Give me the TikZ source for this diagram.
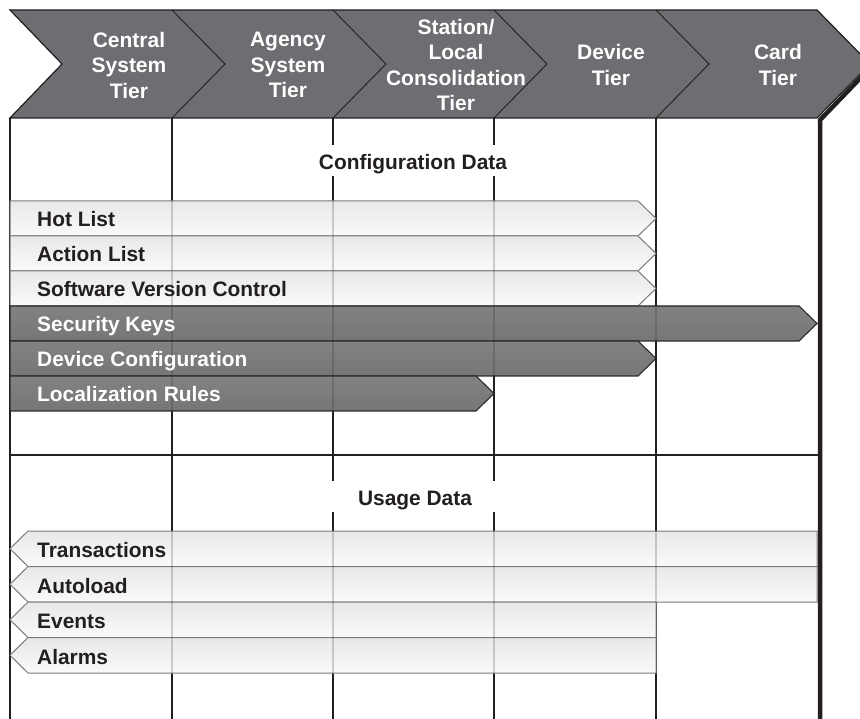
\documentclass[tikz,border=0pt]{standalone}
\usepackage{fontspec}
\setmainfont{Liberation Sans}
\definecolor{hdrgray}{HTML}{6D6E71}
\definecolor{linedark}{HTML}{231F20}
\definecolor{lightedge}{HTML}{7A7A7A}
\definecolor{darkedge}{HTML}{2A2A2A}
\definecolor{darktop}{HTML}{828282}
\definecolor{darkbot}{HTML}{767676}
\definecolor{txtblack}{HTML}{231F20}
\tikzset{
  hdr/.style={fill=hdrgray, draw=linedark, line width=1.2pt, line join=miter},
  sepline/.style={draw=linedark, line width=0.9pt},
  col/.style={draw=linedark, line width=1.4pt},
  lightbar/.style={draw=lightedge, line width=1pt, top color=black!9, bottom color=black!2},
  darkbar/.style={draw=darkedge, line width=1.1pt, top color=darktop, bottom color=darkbot},
  hdrtext/.style={text=white, font=\bfseries\fontsize{21}{25.5}\selectfont, align=center, inner sep=0pt},
  lbl/.style={font=\bfseries\fontsize{20.9}{24}\selectfont, anchor=base west, inner sep=0pt, text=txtblack},
  lblw/.style={lbl, text=white},
  sect/.style={font=\bfseries\fontsize{20.9}{24}\selectfont, anchor=base, inner sep=0pt, text=txtblack},
}
\begin{document}
\begin{tikzpicture}[x=1pt,y=-1pt]
\useasboundingbox (0,0) rectangle (860,719);
\clip (0,0) rectangle (860,719);
\fill[white] (0,0) rectangle (860,719);

% column lines
\draw[col] (10,118) -- (10,719);
\draw[col] (172,118) -- (172,719);
\draw[col] (333,118) -- (333,145);
\draw[col] (333,176) -- (333,481);
\draw[col] (333,512) -- (333,719);
\draw[col] (494,118) -- (494,145);
\draw[col] (494,176) -- (494,481);
\draw[col] (494,512) -- (494,719);
\draw[col] (656,118) -- (656,719);
% section separator
\draw[col] (10,455) -- (819,455);

% section labels
\node[sect] (cfg) at (413,170) {Configuration Data};
\node[sect] (usg) at (415,505) {Usage Data};

% configuration bars
\draw[lightbar] (10,201) -- (638,201) -- (656,218.5) -- (638,236) -- (10,236) -- cycle;
\draw[lightbar] (10,236) -- (638,236) -- (656,253.5) -- (638,271) -- (10,271) -- cycle;
\draw[lightbar] (10,271) -- (638,271) -- (656,288.5) -- (638,306) -- (10,306) -- cycle;
\draw[darkbar] (10,306) -- (799,306) -- (817,323.5) -- (799,341) -- (10,341) -- cycle;
\draw[darkbar] (10,341) -- (638,341) -- (656,358.5) -- (638,376) -- (10,376) -- cycle;
\draw[darkbar] (10,376) -- (476,376) -- (494,393.5) -- (476,411) -- (10,411) -- cycle;

% usage bars
\draw[lightbar] (28,531) -- (817,531) -- (817,566.5) -- (28,566.5) -- (10,548.75) -- cycle;
\draw[lightbar] (28,566.5) -- (817,566.5) -- (817,602) -- (28,602) -- (10,584.25) -- cycle;
\draw[lightbar] (28,602) -- (656,602) -- (656,637.5) -- (28,637.5) -- (10,619.75) -- cycle;
\draw[lightbar] (28,637.5) -- (656,637.5) -- (656,673) -- (28,673) -- (10,655.25) -- cycle;

% faint column lines showing through bars
\begin{scope}[draw opacity=0.2]
\draw[col] (172,201) -- (172,411);
\draw[col] (333,201) -- (333,411);
\draw[col] (494,201) -- (494,376);
\draw[col] (656,306) -- (656,341);
\draw[col] (172,531) -- (172,673);
\draw[col] (333,531) -- (333,673);
\draw[col] (494,531) -- (494,673);
\draw[col] (656,531) -- (656,602);
\end{scope}

% bar labels
\node[lbl]  (hot) at (37,226.5) {Hot List};
\node[lbl]  (act) at (37,261.5) {Action List};
\node[lbl]  (svc) at (37,296.5) {Software Version Control};
\node[lblw] (sec) at (37,331.5) {Security Keys};
\node[lblw] (dev) at (37,366.5) {Device Configuration};
\node[lblw] (loc) at (37,401.5) {Localization Rules};
\node[lbl]  (trn) at (37,557.5) {Transactions};
\node[lbl]  (aut) at (37,593) {Autoload};
\node[lbl]  (evt) at (37,628.5) {Events};
\node[lbl]  (alm) at (37,664) {Alarms};

% header
\draw[line width=4.5pt, draw=linedark] (872,66) -- (820,120) -- (820,719);
\draw[hdr] (10,10) -- (817,10) -- (870,64) -- (817,118) -- (10,118) -- (62,64) -- cycle;
\draw[sepline] (172,10) -- (225,64) -- (172,118);
\draw[sepline] (333,10) -- (386,64) -- (333,118);
\draw[sepline] (494,10) -- (547,64) -- (494,118);
\draw[sepline] (656,10) -- (709,64) -- (656,118);

\node[hdrtext] (t1) at (129,65) {Central\\System\\Tier};
\node[hdrtext] (t2) at (288,65) {Agency\\System\\Tier};
\node[hdrtext] (t3) at (456,65) {Station/\\Local\\Consolidation\\Tier};
\node[hdrtext] (t4) at (611,65) {Device\\Tier};
\node[hdrtext] (t5) at (778,65) {Card\\Tier};
\end{tikzpicture}
\end{document}
